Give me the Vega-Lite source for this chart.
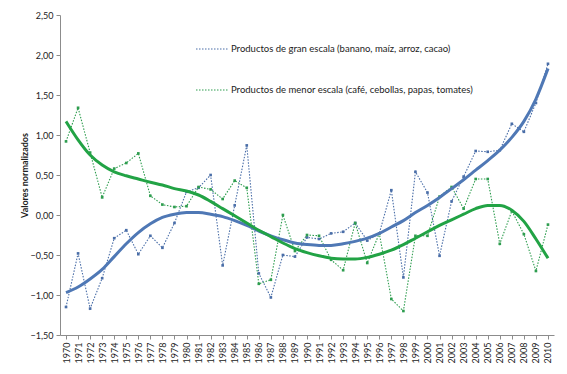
{
  "$schema": "https://vega.github.io/schema/vega-lite/v6.json",
  "width": 494,
  "height": 320,
  "autosize": {"type": "none"},
  "padding": {"left": 60, "top": 15, "right": 13, "bottom": 39},
  "background": "white",
  "config": {
    "view": {"stroke": null},
    "font": "Lato",
    "axis": {"domainColor": "#8c8c8c", "tickColor": "#8c8c8c", "labelColor": "#222222", "titleColor": "#222222", "grid": false, "labelFontSize": 9, "tickSize": 4, "labelOverlap": false, "labelFlush": false}
  },
  "datasets": {
    "rows": [
      {"anio": "1970", "serie": "Productos de gran escala (banano, maíz, arroz, cacao)", "valor": -1.15, "tendencia": -0.97},
      {"anio": "1971", "serie": "Productos de gran escala (banano, maíz, arroz, cacao)", "valor": -0.48, "tendencia": -0.9},
      {"anio": "1972", "serie": "Productos de gran escala (banano, maíz, arroz, cacao)", "valor": -1.17, "tendencia": -0.8},
      {"anio": "1973", "serie": "Productos de gran escala (banano, maíz, arroz, cacao)", "valor": -0.79, "tendencia": -0.68},
      {"anio": "1974", "serie": "Productos de gran escala (banano, maíz, arroz, cacao)", "valor": -0.29, "tendencia": -0.52},
      {"anio": "1975", "serie": "Productos de gran escala (banano, maíz, arroz, cacao)", "valor": -0.19, "tendencia": -0.36},
      {"anio": "1976", "serie": "Productos de gran escala (banano, maíz, arroz, cacao)", "valor": -0.49, "tendencia": -0.22},
      {"anio": "1977", "serie": "Productos de gran escala (banano, maíz, arroz, cacao)", "valor": -0.26, "tendencia": -0.11},
      {"anio": "1978", "serie": "Productos de gran escala (banano, maíz, arroz, cacao)", "valor": -0.41, "tendencia": -0.03},
      {"anio": "1979", "serie": "Productos de gran escala (banano, maíz, arroz, cacao)", "valor": -0.1, "tendencia": 0.01},
      {"anio": "1980", "serie": "Productos de gran escala (banano, maíz, arroz, cacao)", "valor": 0.29, "tendencia": 0.03},
      {"anio": "1981", "serie": "Productos de gran escala (banano, maíz, arroz, cacao)", "valor": 0.34, "tendencia": 0.03},
      {"anio": "1982", "serie": "Productos de gran escala (banano, maíz, arroz, cacao)", "valor": 0.5, "tendencia": 0.01},
      {"anio": "1983", "serie": "Productos de gran escala (banano, maíz, arroz, cacao)", "valor": -0.63, "tendencia": -0.02},
      {"anio": "1984", "serie": "Productos de gran escala (banano, maíz, arroz, cacao)", "valor": 0.12, "tendencia": -0.07},
      {"anio": "1985", "serie": "Productos de gran escala (banano, maíz, arroz, cacao)", "valor": 0.87, "tendencia": -0.13},
      {"anio": "1986", "serie": "Productos de gran escala (banano, maíz, arroz, cacao)", "valor": -0.73, "tendencia": -0.2},
      {"anio": "1987", "serie": "Productos de gran escala (banano, maíz, arroz, cacao)", "valor": -1.03, "tendencia": -0.26},
      {"anio": "1988", "serie": "Productos de gran escala (banano, maíz, arroz, cacao)", "valor": -0.5, "tendencia": -0.31},
      {"anio": "1989", "serie": "Productos de gran escala (banano, maíz, arroz, cacao)", "valor": -0.52, "tendencia": -0.35},
      {"anio": "1990", "serie": "Productos de gran escala (banano, maíz, arroz, cacao)", "valor": -0.28, "tendencia": -0.37},
      {"anio": "1991", "serie": "Productos de gran escala (banano, maíz, arroz, cacao)", "valor": -0.3, "tendencia": -0.38},
      {"anio": "1992", "serie": "Productos de gran escala (banano, maíz, arroz, cacao)", "valor": -0.23, "tendencia": -0.38},
      {"anio": "1993", "serie": "Productos de gran escala (banano, maíz, arroz, cacao)", "valor": -0.21, "tendencia": -0.36},
      {"anio": "1994", "serie": "Productos de gran escala (banano, maíz, arroz, cacao)", "valor": -0.1, "tendencia": -0.33},
      {"anio": "1995", "serie": "Productos de gran escala (banano, maíz, arroz, cacao)", "valor": -0.32, "tendencia": -0.29},
      {"anio": "1996", "serie": "Productos de gran escala (banano, maíz, arroz, cacao)", "valor": -0.23, "tendencia": -0.23},
      {"anio": "1997", "serie": "Productos de gran escala (banano, maíz, arroz, cacao)", "valor": 0.31, "tendencia": -0.15},
      {"anio": "1998", "serie": "Productos de gran escala (banano, maíz, arroz, cacao)", "valor": -0.78, "tendencia": -0.07},
      {"anio": "1999", "serie": "Productos de gran escala (banano, maíz, arroz, cacao)", "valor": 0.54, "tendencia": 0.03},
      {"anio": "2000", "serie": "Productos de gran escala (banano, maíz, arroz, cacao)", "valor": 0.28, "tendencia": 0.12},
      {"anio": "2001", "serie": "Productos de gran escala (banano, maíz, arroz, cacao)", "valor": -0.51, "tendencia": 0.22},
      {"anio": "2002", "serie": "Productos de gran escala (banano, maíz, arroz, cacao)", "valor": 0.17, "tendencia": 0.33},
      {"anio": "2003", "serie": "Productos de gran escala (banano, maíz, arroz, cacao)", "valor": 0.48, "tendencia": 0.44},
      {"anio": "2004", "serie": "Productos de gran escala (banano, maíz, arroz, cacao)", "valor": 0.8, "tendencia": 0.56},
      {"anio": "2005", "serie": "Productos de gran escala (banano, maíz, arroz, cacao)", "valor": 0.79, "tendencia": 0.68},
      {"anio": "2006", "serie": "Productos de gran escala (banano, maíz, arroz, cacao)", "valor": 0.81, "tendencia": 0.81},
      {"anio": "2007", "serie": "Productos de gran escala (banano, maíz, arroz, cacao)", "valor": 1.14, "tendencia": 0.97},
      {"anio": "2008", "serie": "Productos de gran escala (banano, maíz, arroz, cacao)", "valor": 1.04, "tendencia": 1.17},
      {"anio": "2009", "serie": "Productos de gran escala (banano, maíz, arroz, cacao)", "valor": 1.4, "tendencia": 1.45},
      {"anio": "2010", "serie": "Productos de gran escala (banano, maíz, arroz, cacao)", "valor": 1.89, "tendencia": 1.83},
      {"anio": "1970", "serie": "Productos de menor escala (café, cebollas, papas, tomates)", "valor": 0.92, "tendencia": 1.17},
      {"anio": "1971", "serie": "Productos de menor escala (café, cebollas, papas, tomates)", "valor": 1.34, "tendencia": 0.94},
      {"anio": "1972", "serie": "Productos de menor escala (café, cebollas, papas, tomates)", "valor": 0.78, "tendencia": 0.75},
      {"anio": "1973", "serie": "Productos de menor escala (café, cebollas, papas, tomates)", "valor": 0.22, "tendencia": 0.625},
      {"anio": "1974", "serie": "Productos de menor escala (café, cebollas, papas, tomates)", "valor": 0.58, "tendencia": 0.54},
      {"anio": "1975", "serie": "Productos de menor escala (café, cebollas, papas, tomates)", "valor": 0.65, "tendencia": 0.49},
      {"anio": "1976", "serie": "Productos de menor escala (café, cebollas, papas, tomates)", "valor": 0.77, "tendencia": 0.45},
      {"anio": "1977", "serie": "Productos de menor escala (café, cebollas, papas, tomates)", "valor": 0.24, "tendencia": 0.41},
      {"anio": "1978", "serie": "Productos de menor escala (café, cebollas, papas, tomates)", "valor": 0.13, "tendencia": 0.375},
      {"anio": "1979", "serie": "Productos de menor escala (café, cebollas, papas, tomates)", "valor": 0.1, "tendencia": 0.33},
      {"anio": "1980", "serie": "Productos de menor escala (café, cebollas, papas, tomates)", "valor": 0.11, "tendencia": 0.3},
      {"anio": "1981", "serie": "Productos de menor escala (café, cebollas, papas, tomates)", "valor": 0.35, "tendencia": 0.25},
      {"anio": "1982", "serie": "Productos de menor escala (café, cebollas, papas, tomates)", "valor": 0.32, "tendencia": 0.17},
      {"anio": "1983", "serie": "Productos de menor escala (café, cebollas, papas, tomates)", "valor": 0.2, "tendencia": 0.08},
      {"anio": "1984", "serie": "Productos de menor escala (café, cebollas, papas, tomates)", "valor": 0.43, "tendencia": -0.01},
      {"anio": "1985", "serie": "Productos de menor escala (café, cebollas, papas, tomates)", "valor": 0.34, "tendencia": -0.1},
      {"anio": "1986", "serie": "Productos de menor escala (café, cebollas, papas, tomates)", "valor": -0.86, "tendencia": -0.19},
      {"anio": "1987", "serie": "Productos de menor escala (café, cebollas, papas, tomates)", "valor": -0.81, "tendencia": -0.27},
      {"anio": "1988", "serie": "Productos de menor escala (café, cebollas, papas, tomates)", "valor": 0.0, "tendencia": -0.35},
      {"anio": "1989", "serie": "Productos de menor escala (café, cebollas, papas, tomates)", "valor": -0.45, "tendencia": -0.42},
      {"anio": "1990", "serie": "Productos de menor escala (café, cebollas, papas, tomates)", "valor": -0.25, "tendencia": -0.47},
      {"anio": "1991", "serie": "Productos de menor escala (café, cebollas, papas, tomates)", "valor": -0.26, "tendencia": -0.51},
      {"anio": "1992", "serie": "Productos de menor escala (café, cebollas, papas, tomates)", "valor": -0.56, "tendencia": -0.54},
      {"anio": "1993", "serie": "Productos de menor escala (café, cebollas, papas, tomates)", "valor": -0.69, "tendencia": -0.55},
      {"anio": "1994", "serie": "Productos de menor escala (café, cebollas, papas, tomates)", "valor": -0.1, "tendencia": -0.55},
      {"anio": "1995", "serie": "Productos de menor escala (café, cebollas, papas, tomates)", "valor": -0.6, "tendencia": -0.53},
      {"anio": "1996", "serie": "Productos de menor escala (café, cebollas, papas, tomates)", "valor": -0.23, "tendencia": -0.49},
      {"anio": "1997", "serie": "Productos de menor escala (café, cebollas, papas, tomates)", "valor": -1.05, "tendencia": -0.44},
      {"anio": "1998", "serie": "Productos de menor escala (café, cebollas, papas, tomates)", "valor": -1.2, "tendencia": -0.37},
      {"anio": "1999", "serie": "Productos de menor escala (café, cebollas, papas, tomates)", "valor": -0.26, "tendencia": -0.29},
      {"anio": "2000", "serie": "Productos de menor escala (café, cebollas, papas, tomates)", "valor": -0.26, "tendencia": -0.21},
      {"anio": "2001", "serie": "Productos de menor escala (café, cebollas, papas, tomates)", "valor": 0.23, "tendencia": -0.13},
      {"anio": "2002", "serie": "Productos de menor escala (café, cebollas, papas, tomates)", "valor": 0.35, "tendencia": -0.06},
      {"anio": "2003", "serie": "Productos de menor escala (café, cebollas, papas, tomates)", "valor": 0.08, "tendencia": 0.01},
      {"anio": "2004", "serie": "Productos de menor escala (café, cebollas, papas, tomates)", "valor": 0.45, "tendencia": 0.08},
      {"anio": "2005", "serie": "Productos de menor escala (café, cebollas, papas, tomates)", "valor": 0.45, "tendencia": 0.12},
      {"anio": "2006", "serie": "Productos de menor escala (café, cebollas, papas, tomates)", "valor": -0.36, "tendencia": 0.12},
      {"anio": "2007", "serie": "Productos de menor escala (café, cebollas, papas, tomates)", "valor": 0.05, "tendencia": 0.06},
      {"anio": "2008", "serie": "Productos de menor escala (café, cebollas, papas, tomates)", "valor": -0.24, "tendencia": -0.08},
      {"anio": "2009", "serie": "Productos de menor escala (café, cebollas, papas, tomates)", "valor": -0.7, "tendencia": -0.3},
      {"anio": "2010", "serie": "Productos de menor escala (café, cebollas, papas, tomates)", "valor": -0.12, "tendencia": -0.54}
    ]
  },
  "data": {"name": "rows"},
  "layer": [
    {
      "mark": {"type": "line", "strokeDash": [1.5, 1.5], "strokeWidth": 1.1, "point": {"shape": "square", "size": 7, "filled": true}},
      "encoding": {
        "x": {"field": "anio", "type": "ordinal", "scale": {"type": "point", "padding": 0.5},
              "axis": {"title": null, "labelAngle": -90, "labelPadding": 3, "labelFontSize": 9, "labelOverlap": false}},
        "y": {"field": "valor", "type": "quantitative", "scale": {"domain": [-1.5, 2.5], "nice": false, "zero": false},
              "axis": {"values": [-1.5, -1.0, -0.5, 0.0, 0.5, 1.0, 1.5, 2.0, 2.5], "tickCount": 9, "labelOverlap": false,
                       "labelExpr": "replace(format(datum.value, '.2f'), '.', ',')",
                       "title": "Valores normalizados", "titleFontSize": 9, "titleFontWeight": "bold", "titlePadding": 1, "labelPadding": 3}},
        "color": {"field": "serie", "type": "nominal",
                  "scale": {"domain": ["Productos de gran escala (banano, maíz, arroz, cacao)", "Productos de menor escala (café, cebollas, papas, tomates)"], "range": ["#4a6ea8", "#2e9d4f"]},
                  "legend": {"orient": "none", "legendX": 135, "legendY": 17, "title": null, "symbolType": "stroke", "symbolSize": 1024, "symbolStrokeWidth": 1.2, "symbolDash": [1.5, 1.5], "labelFontSize": 9.5, "labelColor": "#222222", "rowPadding": 19, "labelOffset": 2, "labelLimit": 0}}
      }
    },
    {
      "mark": {"type": "line", "strokeWidth": 3, "interpolate": "monotone"},
      "encoding": {
        "x": {"field": "anio", "type": "ordinal"},
        "y": {"field": "tendencia", "type": "quantitative",
              "axis": {"values": [-1.5, -1.0, -0.5, 0.0, 0.5, 1.0, 1.5, 2.0, 2.5], "tickCount": 9, "labelOverlap": false,
                       "labelExpr": "replace(format(datum.value, '.2f'), '.', ',')",
                       "title": "Valores normalizados", "titleFontSize": 9, "titleFontWeight": "bold", "titlePadding": 1, "labelPadding": 3}},
        "color": {"field": "serie", "type": "nominal",
                  "scale": {"domain": ["Productos de gran escala (banano, maíz, arroz, cacao)", "Productos de menor escala (café, cebollas, papas, tomates)"], "range": ["#4f78b5", "#22a345"]},
                  "legend": null}
      }
    }
  ],
  "resolve": {"scale": {"color": "independent"}}
}
